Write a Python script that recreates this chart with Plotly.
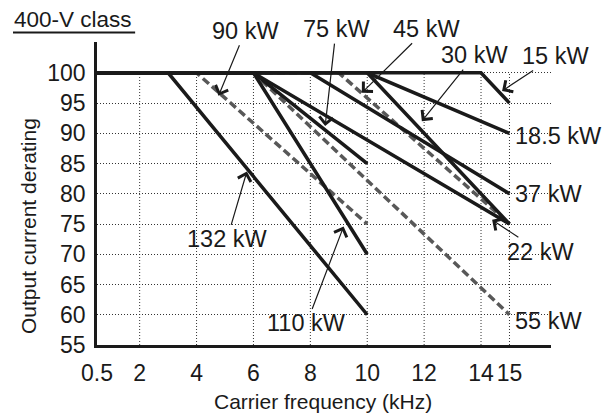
import plotly.graph_objects as go

# derating curves, 400-V class
ratings = ['15 kW', '18.5 kW', '22 kW', '30 kW', '37 kW', '45 kW', '55 kW', '75 kW', '90 kW', '110 kW', '132 kW']
start_khz = 0.5
knee_khz = [14, 10, 6, 10, 8, 9, 6, 6, 4, 6, 3]
end_khz = [15, 15, 15, 15, 15, 15, 15, 10, 10, 10, 10]
end_pct = [95, 90, 75, 75, 80, 75, 60, 85, 75, 70, 60]
is_dashed = [False, False, False, False, False, True, True, False, True, False, False]

# axis ticks
x_ticks = [0.5, 2, 4, 6, 8, 10, 12, 14, 15]
y_ticks = [55, 60, 65, 70, 75, 80, 85, 90, 95, 100]

# labels with arrows: text, arrow tip (kHz, %), text offset from tip (px)
arrow_text = ['90 kW', '75 kW', '45 kW', '30 kW', '15 kW', '132 kW', '110 kW', '22 kW']
arrow_x = [4.77, 8.52, 9.81, 11.92, 14.74, 5.77, 9.17, 14.39]
arrow_y = [96.2, 91.2, 96.7, 92.0, 97.0, 83.7, 74.6, 75.7]
arrow_dx = [27, 11, 65, 53, 53, -20, -37, 48]
arrow_dy = [-65, -97, -64, -66, -35, 68, 97, 32]

# labels at line ends
end_text = ['18.5 kW', '37 kW', '55 kW']
end_x = [15, 15, 15]
end_y = [89.5, 79.9, 58.9]

FONT = 'Liberation Sans, Arial, Helvetica, sans-serif'
INK = '#1a1a1a'

fig = go.Figure()

# dashed ones first so the black lines sit on top along 100 %
order = [i for i in range(len(ratings)) if is_dashed[i]] + [i for i in range(len(ratings)) if not is_dashed[i]]
for i in order:
    if is_dashed[i]:
        line = dict(color='#585858', width=3.5, dash='8px,4px')
    else:
        line = dict(color=INK, width=3.5)
    fig.add_trace(go.Scatter(x=[start_khz, knee_khz[i], end_khz[i]],
                             y=[100, 100, end_pct[i]],
                             mode='lines', line=line, name=ratings[i],
                             showlegend=False, hoverinfo='skip'))

# vertical grid only between 55 and 100
shapes = []
for xv in x_ticks[1:]:
    shapes.append(dict(type='line', xref='x', yref='y', x0=xv, x1=xv, y0=y_ticks[0], y1=y_ticks[-1],
                       line=dict(color='#333', width=1, dash='1px,2px'), layer='below'))
# underline of the title
shapes.append(dict(type='line', xref='paper', yref='paper', x0=-0.185, x1=0.084, y0=1.031, y1=1.031,
                   line=dict(color=INK, width=2)))

annotations = []
for t, x, y, dx, dy in zip(arrow_text, arrow_x, arrow_y, arrow_dx, arrow_dy):
    annotations.append(dict(x=x, y=y, text=t, showarrow=True, ax=dx, ay=dy,
                            arrowhead=4, arrowsize=2.2, arrowwidth=1.2, arrowcolor=INK,
                            font=dict(size=23.5, color=INK, family=FONT)))
for t, x, y in zip(end_text, end_x, end_y):
    annotations.append(dict(x=x, y=y, text=t, showarrow=False, xanchor='left', xshift=4,
                            font=dict(size=23.5, color=INK, family=FONT)))

annotations.append(dict(xref='paper', yref='paper', x=-0.187, y=1.073, xanchor='left', yanchor='middle',
                        text='400-V class', showarrow=False,
                        font=dict(size=22.5, color=INK, family=FONT)))
annotations.append(dict(xref='paper', yref='paper', x=0.498, y=-0.187, xanchor='center', yanchor='middle',
                        text='Carrier frequency (kHz)', showarrow=False,
                        font=dict(size=21, color=INK, family=FONT)))
annotations.append(dict(xref='paper', yref='paper', x=-0.151, y=0.394, xanchor='center', yanchor='middle',
                        text='Output current derating', showarrow=False, textangle=-90,
                        font=dict(size=21, color=INK, family=FONT)))

fig.update_layout(
    width=611, height=414,
    margin=dict(l=97, r=60, t=42, b=69),
    paper_bgcolor='white', plot_bgcolor='white',
    showlegend=False,
    shapes=shapes, annotations=annotations,
    font=dict(family=FONT, color=INK),
)
fig.update_xaxes(range=[0.5, 16.46], tickvals=x_ticks, ticktext=[str(v) for v in x_ticks],
                 showgrid=False, zeroline=False, showline=True, linecolor=INK, linewidth=2.5,
                 ticks='', tickangle=0, ticklabelstandoff=6, tickfont=dict(size=23))
fig.update_yaxes(range=[55, 105.1], tickvals=y_ticks,
                 showgrid=True, gridcolor='#333', gridwidth=1, griddash='1px,2px',
                 zeroline=False, showline=True, linecolor=INK, linewidth=2.5,
                 ticks='', ticklabelstandoff=4, tickfont=dict(size=23))

# drop the default page margin so the figure sits at the window's corner
fig.write_html('out.html', config={'displayModeBar': False},
               post_script="document.body.style.margin='0';")
